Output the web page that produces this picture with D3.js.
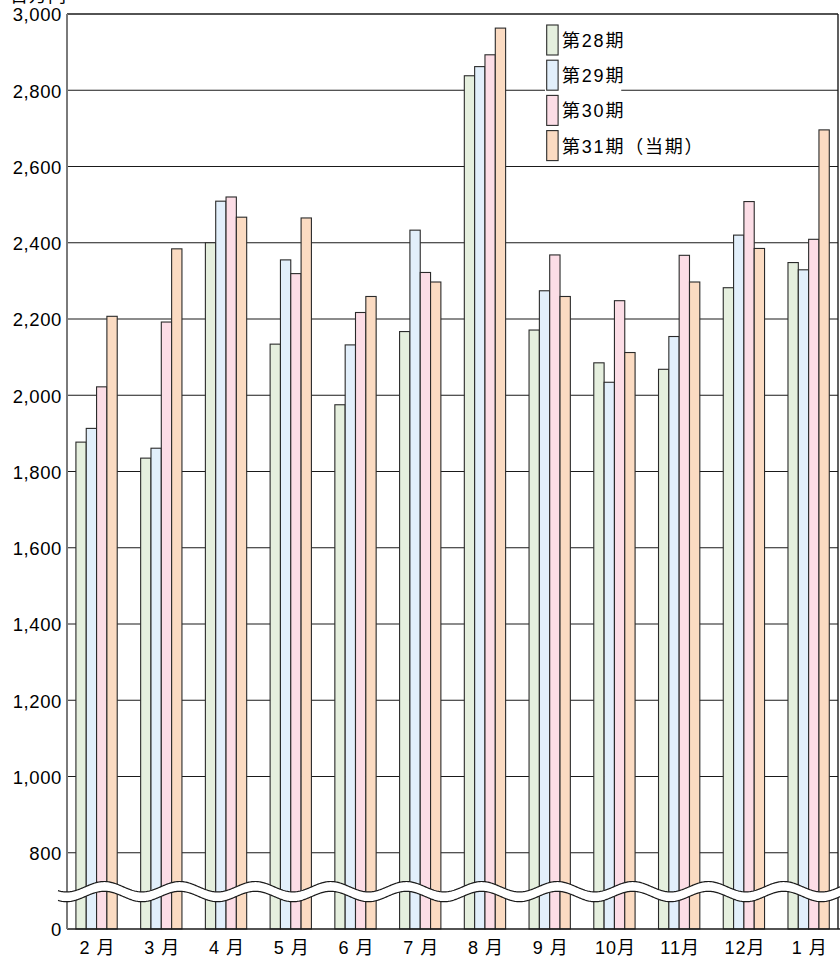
<!DOCTYPE html>
<html>
<head>
<meta charset="utf-8">
<script src="https://cdn.jsdelivr.net/npm/d3@7"></script>
<style>
  html, body { margin: 0; padding: 0; background: #fff; }
  svg { display: block; }
  text { font-family: "Liberation Sans", Arial, "Noto Sans CJK JP", sans-serif; }
</style>
</head>
<body>
<svg id="chart" width="840" height="960"></svg>
<script>
// Monthly sales (百万円) for four fiscal periods
const months = ["2 月", "3 月", "4 月", "5 月", "6 月", "7 月", "8 月", "9 月", "10月", "11月", "12月", "1 月"];
const seriesNames = ["第28期", "第29期", "第30期", "第31期（当期）"];
const period28 = [1877, 1835, 2400, 2134, 1975, 2167, 2838, 2171, 2085, 2068, 2282, 2348];
const period29 = [1913, 1861, 2509, 2355, 2132, 2433, 2862, 2274, 2034, 2154, 2420, 2329];
const period30 = [2022, 2192, 2520, 2319, 2217, 2322, 2893, 2368, 2248, 2367, 2508, 2409];
const period31 = [2207, 2384, 2467, 2465, 2259, 2297, 2963, 2259, 2112, 2297, 2385, 2696];
const yTickValues = [0, 800, 1000, 1200, 1400, 1600, 1800, 2000, 2200, 2400, 2600, 2800, 3000];
const gridValues = [800, 1000, 1200, 1400, 1600, 1800, 2000, 2200, 2400, 2600, 2800, 3000];
const unitLabel = "百万円";

const seriesValues = [period28, period29, period30, period31];
const colors = ["#e5efde", "#e2effb", "#fcdde6", "#fbdbc2"];

const svg = d3.select("#chart");
const plotLeft = 67, plotRight = 838, plotTop = 14, plotBottom = 929;

// Broken axis: 0 at the baseline, then 800..3000 linear
const y = d3.scaleLinear().domain([0, 800, 3000]).range([plotBottom, 852.7, plotTop]);

const x = d3.scaleBand().domain(months).range([64.2, 841]).paddingInner(0.362).paddingOuter(0.181);
const xs = d3.scaleBand().domain(seriesNames).range([0, x.bandwidth()]);

// grid lines
svg.append("g").selectAll("line").data(gridValues).join("line")
  .attr("x1", plotLeft).attr("x2", plotRight)
  .attr("y1", d => y(d)).attr("y2", d => y(d))
  .attr("stroke", "#1a1a1a").attr("stroke-width", 1.1);

// bars
const rows = months.map((m, i) => ({ month: m, values: seriesValues.map((s, j) => ({ name: seriesNames[j], v: s[i], c: colors[j] })) }));
const groups = svg.append("g").selectAll("g").data(rows).join("g")
  .attr("transform", d => `translate(${x(d.month)},0)`);
groups.selectAll("rect").data(d => d.values).join("rect")
  .attr("x", d => xs(d.name))
  .attr("width", xs.bandwidth())
  .attr("y", d => y(d.v))
  .attr("height", d => y(0) - y(d.v))
  .attr("fill", d => d.c)
  .attr("stroke", "#2a2a2a").attr("stroke-width", 1.1);

// frame: top, right, baseline, left axis
svg.append("line").attr("x1", plotLeft).attr("x2", plotRight).attr("y1", y(3000)).attr("y2", y(3000))
  .attr("stroke", "#1a1a1a").attr("stroke-width", 1.2);
svg.append("line").attr("x1", plotRight).attr("x2", plotRight).attr("y1", y(3000)).attr("y2", y(0))
  .attr("stroke", "#1a1a1a").attr("stroke-width", 1.4);
svg.append("line").attr("x1", plotLeft).attr("x2", 840).attr("y1", y(0)).attr("y2", y(0))
  .attr("stroke", "#1a1a1a").attr("stroke-width", 1.4);
svg.append("line").attr("x1", plotLeft).attr("x2", plotLeft).attr("y1", y(3000)).attr("y2", y(0))
  .attr("stroke", "#7a7a7a").attr("stroke-width", 2);

// axis break: white wavy band between two wavy strokes
const wavePeriod = 75.5, wavePhase = 142, waveAmp = 5.2, c1 = 886.7, c2 = 896.5;
const xsWave = d3.range(58, 841, 1);
const wave = c => xsWave.map(px => [px, c + waveAmp * Math.cos(2 * Math.PI * (px - wavePhase) / wavePeriod)]);
const w1 = wave(c1), w2 = wave(c2);
const lineGen = d3.line();
svg.append("path")
  .attr("d", lineGen(w1.concat(w2.slice().reverse())) + "Z")
  .attr("fill", "#fff").attr("stroke", "none");
svg.append("path").attr("d", lineGen(w1)).attr("fill", "none").attr("stroke", "#1a1a1a").attr("stroke-width", 1.2);
svg.append("path").attr("d", lineGen(w2)).attr("fill", "none").attr("stroke", "#1a1a1a").attr("stroke-width", 1.2);

// y tick labels
const fmt = d3.format(",");
svg.append("g").selectAll("text").data(yTickValues).join("text")
  .attr("x", 62).attr("y", d => y(d) + 7.3)
  .attr("text-anchor", "end")
  .attr("font-size", 18.5).attr("letter-spacing", 0.6)
  .attr("fill", "#000")
  .text(d => fmt(d));

// unit label, sitting partly above the top edge
svg.append("text").attr("x", 10).attr("y", 2)
  .attr("font-size", 18).attr("letter-spacing", 1).attr("fill", "#000")
  .text(unitLabel);

// x labels
svg.append("g").selectAll("text").data(months).join("text")
  .attr("x", d => x(d) + x.bandwidth() / 2 + 1)
  .attr("y", 954)
  .attr("text-anchor", "middle")
  .attr("font-size", 18).attr("letter-spacing", 1)
  .attr("fill", "#000")
  .text(d => d);

// legend
const legend = svg.append("g");
seriesNames.forEach((name, i) => {
  const ty = 25 + i * 35.2;
  const g = legend.append("g");
  const bg = g.append("rect").attr("fill", "#fff");
  g.append("rect").attr("x", 546.7).attr("y", ty).attr("width", 11.4).attr("height", 30)
    .attr("fill", colors[i]).attr("stroke", "#2a2a2a").attr("stroke-width", 1.1);
  const t = g.append("text").attr("x", 562).attr("y", ty + 22)
    .attr("font-size", 18).attr("letter-spacing", 1.8).attr("fill", "#000").text(name);
  const bb = t.node().getBBox();
  bg.attr("x", 545).attr("y", ty - 2).attr("width", bb.x + bb.width - 545 - 4).attr("height", 34.5);
});
</script>
</body>
</html>
